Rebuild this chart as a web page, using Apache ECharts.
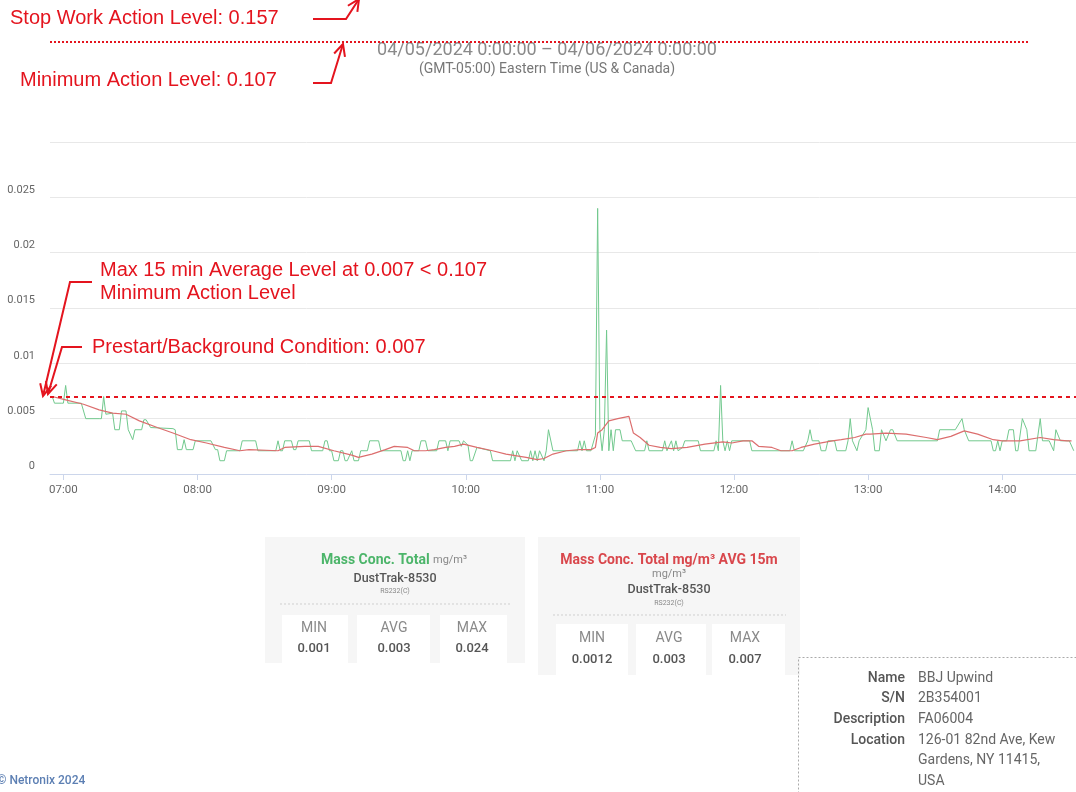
<!DOCTYPE html>
<html>
<head>
<meta charset="utf-8">
<script src="https://cdn.jsdelivr.net/npm/echarts@6/dist/echarts.min.js"></script>
<style>
  html, body { margin: 0; padding: 0; background: #fff; }
  #chart { width: 1076px; height: 792px; }
</style>
</head>
<body>
<div id="chart"></div>
<script>
// --- data (04/05/2024, mg/m3) ---
const day = '2024-04-05 '
const xRange = ['06:54', '14:33']

const greenTimes = [
  '06:55','06:56','06:59','07:00','07:01','07:02','07:08','07:10','07:16','07:17',
  '07:18','07:19','07:22','07:23','07:25','07:26','07:28','07:29','07:31','07:32',
  '07:35','07:36','07:37','07:39','07:49','07:50','07:51','07:53','07:54','07:55',
  '07:58','07:59','08:06','08:08','08:09','08:10','08:12','08:13','08:19','08:20',
  '08:26','08:27','08:35','08:36','08:37','08:38','08:39','08:42','08:43','08:44',
  '08:45','08:50','08:51','08:56','08:57','08:58','08:59','09:00','09:01','09:03',
  '09:04','09:05','09:06','09:07','09:09','09:10','09:12','09:13','09:16','09:17',
  '09:21','09:22','09:31','09:32','09:33','09:34','09:35','09:36','09:39','09:40',
  '09:42','09:43','09:47','09:48','09:51','09:52','09:53','09:57','09:58','09:59',
  '10:01','10:02','10:03','10:05','10:11','10:12','10:20','10:21','10:22','10:23',
  '10:25','10:28','10:29','10:30','10:31','10:32','10:33','10:35','10:36','10:37',
  '10:39','10:50','10:51','10:52','10:53','10:54','10:56','10:58','10:59','11:00',
  '11:01','11:02','11:03','11:04','11:05','11:06','11:07','11:09','11:10','11:14',
  '11:16','11:20','11:21','11:22','11:28','11:29','11:30','11:32','11:33','11:34',
  '11:35','11:37','11:38','11:44','11:45','11:51','11:52','11:53','11:54','11:55',
  '11:56','11:57','11:58','11:59','12:07','12:08','12:25','12:26','12:27','12:31',
  '12:33','12:34','12:35','12:38','12:39','12:41','12:42','12:45','12:46','12:50',
  '12:51','12:52','12:53','12:55','12:56','12:59','13:00','13:02','13:03','13:05',
  '13:06','13:08','13:10','13:11','13:13','13:31','13:32','13:39','13:42','13:43',
  '13:45','13:55','13:56','13:57','13:58','13:59','14:00','14:02','14:03','14:05',
  '14:06','14:07','14:09','14:11','14:12','14:15','14:17','14:18','14:21','14:23',
  '14:24','14:26','14:30','14:32'
]
const greenValues = [
  0.007,0.0064,0.0064,0.0064,0.008,0.0064,0.0064,0.005,0.005,0.005,
  0.007,0.0054,0.0055,0.004,0.004,0.0057,0.0057,0.004,0.0031,0.004,
  0.004,0.0049,0.0049,0.0042,0.0041,0.004,0.0022,0.0022,0.0031,0.0022,
  0.0022,0.003,0.003,0.0022,0.0022,0.0012,0.0012,0.0021,0.0021,0.003,
  0.003,0.0021,0.0021,0.003,0.0021,0.0021,0.003,0.003,0.0022,0.0022,
  0.003,0.003,0.0021,0.0021,0.003,0.003,0.0021,0.0021,0.0012,0.0012,
  0.0021,0.0021,0.0012,0.0012,0.0021,0.0012,0.0012,0.0021,0.0021,0.003,
  0.003,0.0021,0.0021,0.0012,0.0012,0.0021,0.0012,0.0021,0.0021,0.003,
  0.003,0.0021,0.0021,0.003,0.003,0.0021,0.003,0.003,0.0025,0.003,
  0.0026,0.0012,0.0012,0.0024,0.0021,0.0012,0.0012,0.0021,0.0012,0.0021,
  0.0012,0.0012,0.0021,0.0012,0.0021,0.0012,0.0021,0.0012,0.0021,0.004,
  0.0021,0.0021,0.003,0.0021,0.003,0.0021,0.0021,0.0035,0.024,0.004,
  0.0021,0.004,0.013,0.0021,0.004,0.0021,0.004,0.004,0.003,0.003,
  0.0021,0.0021,0.003,0.0021,0.0021,0.003,0.0021,0.003,0.0021,0.003,
  0.0021,0.0024,0.003,0.003,0.0021,0.0021,0.003,0.0021,0.008,0.003,
  0.0021,0.003,0.0021,0.003,0.003,0.0021,0.0021,0.003,0.0021,0.0021,
  0.003,0.004,0.003,0.003,0.0021,0.0021,0.003,0.003,0.0021,0.0021,
  0.003,0.005,0.003,0.0021,0.003,0.004,0.006,0.004,0.0021,0.0021,
  0.004,0.003,0.004,0.004,0.003,0.003,0.004,0.004,0.005,0.004,
  0.003,0.003,0.0021,0.0021,0.003,0.0021,0.003,0.003,0.004,0.004,
  0.0021,0.0021,0.005,0.004,0.0021,0.0021,0.005,0.003,0.003,0.0021,
  0.004,0.003,0.003,0.0021
]

const avgTimes = [
  '06:55','07:01','07:09','07:16','07:22','07:28','07:34','07:42','07:49','07:57',
  '08:04','08:12','08:19','08:23','08:36','08:39','08:48','08:54','09:01','09:09',
  '09:12','09:18','09:24','09:28','09:34','09:37','09:42','09:46','09:51','09:55',
  '09:59','10:05','10:12','10:18','10:27','10:32','10:35','10:39','10:45','10:51',
  '10:56','10:58','10:59','11:01','11:04','11:08','11:13','11:15','11:18','11:22',
  '11:27','11:32','11:39','11:47','11:55','11:59','12:04','12:08','12:11','12:17',
  '12:21','12:26','12:30','12:36','12:44','12:48','12:54','12:59','13:01','13:08',
  '13:17','13:26','13:31','13:37','13:43','13:49','13:56','14:00','14:08','14:17',
  '14:23','14:29','14:31'
]
const avgValues = [
  0.007,0.0067,0.0063,0.0058,0.0055,0.0054,0.0048,0.0042,0.0037,0.0031,
  0.0028,0.0024,0.0021,0.0022,0.0021,0.0024,0.0025,0.0025,0.0021,0.0017,
  0.0015,0.0018,0.0022,0.0025,0.0024,0.0021,0.0021,0.0022,0.0024,0.0025,
  0.0027,0.0024,0.0021,0.0018,0.0015,0.0013,0.0014,0.0018,0.0021,0.0022,
  0.0022,0.0024,0.0037,0.004,0.0048,0.005,0.0052,0.0037,0.0033,0.0026,
  0.0024,0.0023,0.0024,0.0027,0.0029,0.0028,0.003,0.003,0.0025,0.0024,
  0.0021,0.0021,0.0024,0.0027,0.003,0.0031,0.0033,0.0036,0.0036,0.0037,
  0.0036,0.0033,0.0031,0.0034,0.0039,0.0036,0.0031,0.003,0.003,0.0033,
  0.0031,0.003,0.003
]

const backgroundLevel = 0.007
const greenStats = ['0.001', '0.003', '0.024']
const avgStats = ['0.0012', '0.003', '0.007']
const statNames = ['MIN', 'AVG', 'MAX']
const infoLabels = ['Name', 'S/N', 'Description', 'Location']
const infoValues = ['BBJ Upwind', '2B354001', 'FA06004', '126-01 82nd Ave, Kew', 'Gardens, NY 11415,', 'USA']

const RED = '#e4141e'
const FONT = 'Roboto, "Noto Sans", sans-serif'
const ANNO = '"Liberation Sans", Arial, sans-serif'

function txt(x, y, text, size, color, opts) {
    opts = opts || {}
    return {
        type: 'text', x: x, y: y, z: 100,
        style: {
            text: text,
            fill: color,
            fontSize: size,
            fontFamily: opts.family || FONT,
            fontWeight: opts.weight || 'normal',
            textAlign: opts.align || 'left',
            textVerticalAlign: 'middle',
        },
    }
}

function line(x1, y1, x2, y2, color, width, dash) {
    return {
        type: 'line', z: 100,
        shape: { x1: x1, y1: y1, x2: x2, y2: y2 },
        style: { stroke: color, lineWidth: width, lineDash: dash || null },
    }
}

function rect(x, y, w, h, fill) {
    return { type: 'rect', z: 50, shape: { x: x, y: y, width: w, height: h }, style: { fill: fill } }
}

// red annotation arrow: polyline with an open head at the last point
function arrow(pts) {
    const n = pts.length
    const a = pts[n - 2], b = pts[n - 1]
    const ang = Math.atan2(b[1] - a[1], b[0] - a[0])
    const len = 13, spread = 0.45
    const h1 = [b[0] - len * Math.cos(ang - spread), b[1] - len * Math.sin(ang - spread)]
    const h2 = [b[0] - len * Math.cos(ang + spread), b[1] - len * Math.sin(ang + spread)]
    return [
        { type: 'polyline', z: 100, shape: { points: pts }, style: { stroke: RED, lineWidth: 2, fill: null } },
        { type: 'polyline', z: 100, shape: { points: [h1, b, h2] }, style: { stroke: RED, lineWidth: 2, fill: null } },
    ]
}

function statCard(x, y, w, h, cellY, cellXs, cellWs, labelXs, labelY, valueY, values) {
    const els = [rect(x, y, w, h, '#f6f6f6')]
    for (let i = 0; i < 3; i++) {
        els.push(rect(cellXs[i], cellY, cellWs[i], y + h - cellY, '#ffffff'))
        els.push(txt(labelXs[i], labelY, statNames[i], 14, '#8a8a8a', { align: 'center' }))
        els.push(txt(labelXs[i], valueY, values[i], 13, '#555', { align: 'center', weight: 500 }))
    }
    return els
}

const chart = echarts.init(document.getElementById('chart'))

const graphics = []
    .concat([
        // header
        txt(547, 50, '04/05/2024 0:00:00 \u2013 04/06/2024 0:00:00', 18, '#8a8a8a', { align: 'center' }),
        txt(547, 69, '(GMT-05:00) Eastern Time (US & Canada)', 14, '#777', { align: 'center' }),
        line(50, 42, 1030, 42, RED, 2, [2, 2]),
        txt(10, 18, 'Stop Work Action Level: 0.157', 20, RED, { family: ANNO }),
        txt(20, 80, 'Minimum Action Level: 0.107', 20, RED, { family: ANNO }),
        txt(100, 270, 'Max 15 min Average Level at 0.007 < 0.107', 20, RED, { family: ANNO }),
        txt(100, 293, 'Minimum Action Level', 20, RED, { family: ANNO }),
        txt(92, 347, 'Prestart/Background Condition: 0.007', 20, RED, { family: ANNO }),
    ])
    .concat(arrow([[313, 19], [346, 19], [359, -1]]))
    .concat(arrow([[313, 83], [331, 83], [343, 44]]))
    .concat(arrow([[92, 282], [70, 282], [43, 396]]))
    .concat(arrow([[82, 347], [62, 347], [48, 394]]))
    // card 1: raw readings
    .concat(statCard(265, 537, 260, 126, 615, [282, 357, 440], [66, 73, 67], [314, 394, 472], 628, 649, greenStats))
    .concat([
        txt(321, 560, 'Mass Conc. Total', 14, '#4cb56a', { weight: 'bold' }),
        txt(433, 560, 'mg/m\u00b3', 11, '#888'),
        txt(395, 579, 'DustTrak-8530', 12.5, '#555', { align: 'center', weight: 500 }),
        txt(395, 591, 'RS232(C)', 7, '#888', { align: 'center' }),
        line(280, 604, 512, 604, '#cfcfcf', 1, [2, 2]),
    ])
    // card 2: 15 min average
    .concat(statCard(538, 537, 262, 138, 624, [556, 636, 712], [72, 70, 73], [592, 669, 745], 638, 660, avgStats))
    .concat([
        txt(669, 560, 'Mass Conc. Total mg/m\u00b3 AVG 15m', 14, '#d9474c', { align: 'center', weight: 'bold' }),
        txt(669, 574, 'mg/m\u00b3', 11, '#888', { align: 'center' }),
        txt(669, 590, 'DustTrak-8530', 12.5, '#555', { align: 'center', weight: 500 }),
        txt(669, 603, 'RS232(C)', 7, '#888', { align: 'center' }),
        line(553, 615, 786, 615, '#cfcfcf', 1, [2, 2]),
    ])
    // device info box
    .concat([{
        type: 'rect', z: 50,
        shape: { x: 798.5, y: 657.5, width: 300, height: 200 },
        style: { fill: null, stroke: '#aaa', lineWidth: 1, lineDash: [2, 2] },
    }])
    .concat(infoLabels.map((s, i) => txt(905, 678 + i * 20.7, s, 14, '#555', { align: 'right', weight: 500 })))
    .concat(infoValues.map((s, i) => txt(918, 678 + i * 20.7, s, 14, '#666')))
    .concat([txt(-3, 781, '\u00a9 Netronix 2024', 12, '#5c7fb3', { weight: 500 })])

const option = {
    animation: false,
    backgroundColor: '#ffffff',
    grid: { left: 50, right: 0, top: 142, bottom: 318, containLabel: false },
    xAxis: {
        type: 'time',
        min: day + xRange[0],
        max: day + xRange[1],
        minInterval: 3600 * 1000,
        maxInterval: 3600 * 1000,
        axisLine: { lineStyle: { color: '#ccd6eb' } },
        axisTick: { show: true, length: 6, lineStyle: { color: '#ccd6eb' } },
        splitLine: { show: false },
        axisLabel: {
            formatter: '{HH}:{mm}',
            color: '#666',
            fontSize: 11.5,
            fontFamily: FONT,
            margin: 10,
            showMinLabel: false,
            showMaxLabel: false,
        },
    },
    yAxis: {
        type: 'value',
        min: 0,
        max: 0.03,
        interval: 0.005,
        axisLine: { show: false },
        axisTick: { show: false },
        splitLine: { lineStyle: { color: '#e8e8e8' } },
        axisLabel: {
            showMaxLabel: false,
            color: '#666',
            fontSize: 11,
            fontFamily: FONT,
            margin: 15,
            verticalAlign: 'bottom',
            padding: [0, 0, 2, 0],
        },
    },
    series: [
        {
            name: 'Mass Conc. Total',
            type: 'line',
            showSymbol: false,
            lineStyle: { color: '#72c98e', width: 1 },
            itemStyle: { color: '#72c98e' },
            data: greenTimes.map((t, i) => [day + t, greenValues[i]]),
            markLine: {
                silent: true,
                symbol: 'none',
                precision: 4,
                label: { show: false },
                lineStyle: { color: RED, width: 2, type: [4, 4] },
                data: [{ yAxis: backgroundLevel }],
            },
        },
        {
            name: 'Mass Conc. Total AVG 15m',
            type: 'line',
            showSymbol: false,
            lineStyle: { color: '#dc6e6e', width: 1.2 },
            itemStyle: { color: '#dc6e6e' },
            data: avgTimes.map((t, i) => [day + t, avgValues[i]]),
        },
    ],
    graphic: { elements: graphics },
}

chart.setOption(option)
</script>
</body>
</html>
